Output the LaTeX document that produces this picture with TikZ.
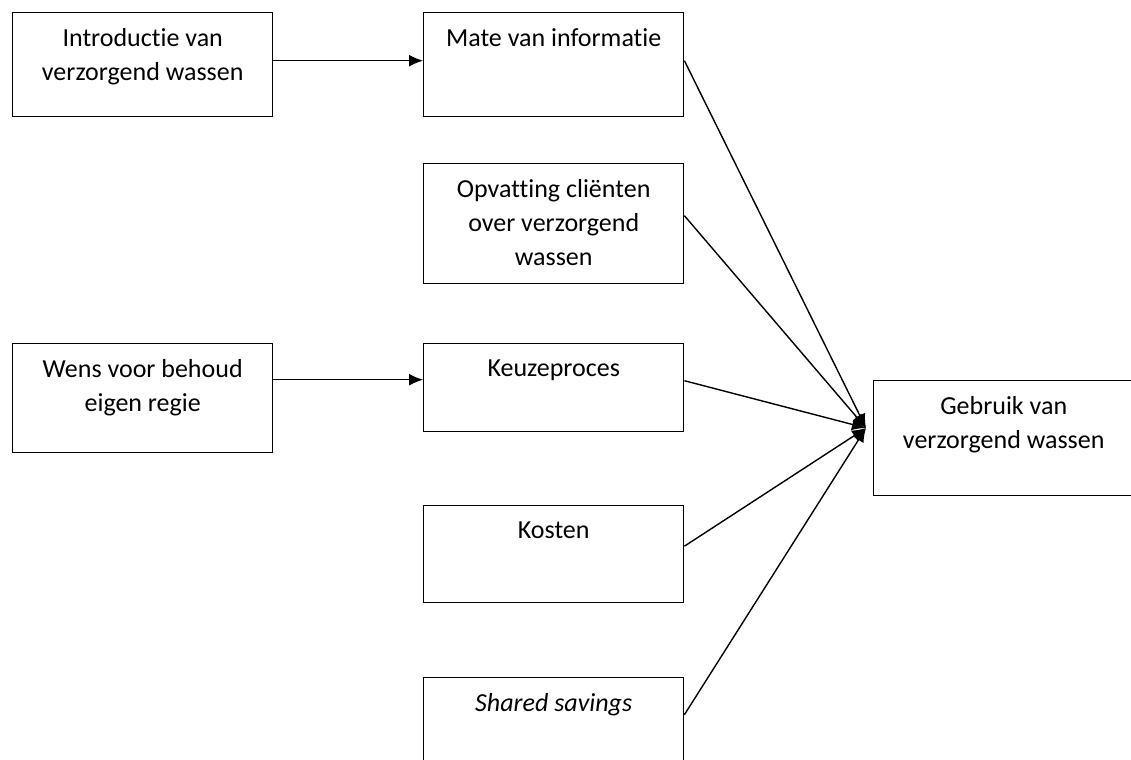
\documentclass[tikz,border=0pt]{standalone}
\usepackage{fontspec}
\setmainfont{Carlito}[Ligatures=NoCommon]
\usepackage{tikz}
\usetikzlibrary{arrows.meta,positioning}
\tikzstyle{arrow} = [line width=0.7pt,-{Latex[length=7pt,width=6pt]},color=black]
\tikzstyle{factorbox} = [rectangle, anchor=north west, minimum width=130pt, inner sep=0pt, draw=black, line width=0.7pt]
\tikzstyle{boxtext} = [anchor=north, align=center, inner sep=0pt, yshift=-8pt, font=\fontsize{13}{17}\selectfont]

\begin{document}
\begin{tikzpicture}[x=0.5pt, y=-0.5pt]
\useasboundingbox (0,0) rectangle (1131,760);
% left column
\node[factorbox, minimum height=52pt, label={[boxtext]north:{Introductie van\\verzorgend wassen}}] (intro) at (12,12) {};
\node[factorbox, minimum height=54.5pt, label={[boxtext]north:{Wens voor behoud\\eigen regie}}] (wens) at (12,343) {};

% middle column
\node[factorbox, minimum height=52pt, label={[boxtext]north:Mate van informatie}] (mate) at (423,12) {};
\node[factorbox, minimum height=60pt, label={[boxtext]north:{Opvatting cli\"enten\\over verzorgend\\wassen}}] (opvatting) at (423,163) {};
\node[factorbox, minimum height=44pt, label={[boxtext]north:Keuzeproces}] (keuze) at (423,343) {};
\node[factorbox, minimum height=48.5pt, label={[boxtext]north:Kosten}] (kosten) at (423,505) {};
\node[factorbox, minimum height=45pt, label={[boxtext]north:\textit{Shared savings}}] (shared) at (423,677) {};

% outcome
\node[factorbox, minimum height=57.5pt, label={[boxtext]north:{Gebruik van\\verzorgend wassen}}] (gebruik) at (873,380) {};
\coordinate (hub) at (866,428);

\draw[arrow] ([yshift=2pt]intro.east) -- ([yshift=2pt]mate.west);
\draw[arrow] ([yshift=4pt]wens.east |- keuze.west) -- ([yshift=4pt]keuze.west);

\draw[arrow] ([yshift=2pt]mate.east) -- (hub);
\draw[arrow] ([yshift=4pt]opvatting.east) -- (hub);
\draw[arrow] ([yshift=3.5pt]keuze.east) -- (hub);
\draw[arrow] ([yshift=4pt]kosten.east) -- (hub);
\draw[arrow] ([yshift=4pt]shared.east) -- (hub);
\end{tikzpicture}
\end{document}
